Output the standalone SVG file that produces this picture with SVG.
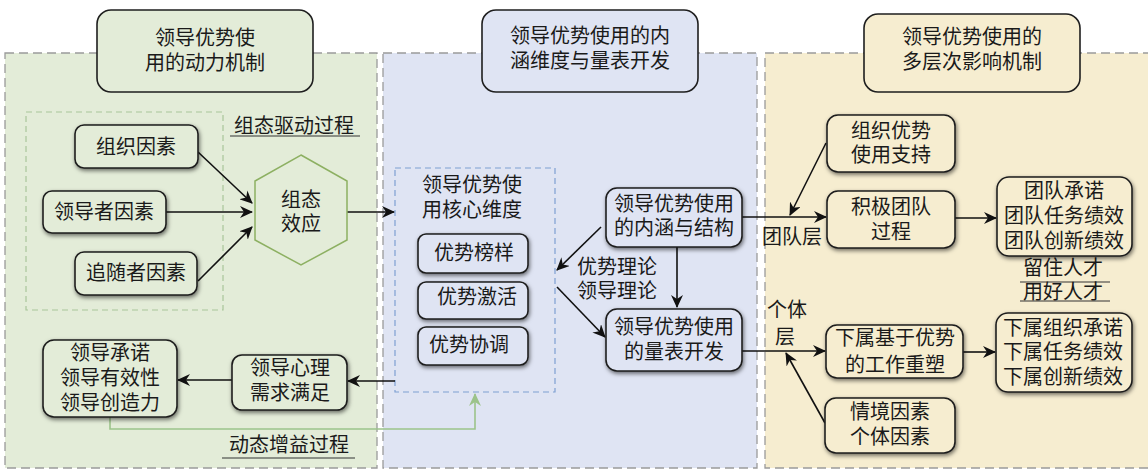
<svg xmlns="http://www.w3.org/2000/svg" width="1148" height="470" viewBox="0 0 1148 470">
<defs>
<style>
text{font-family:"Noto Sans CJK SC","Noto Sans",sans-serif;font-size:20px;fill:#1a1a1a;text-anchor:middle}
.node{stroke:#1e1e1e;stroke-width:1.6;filter:url(#sh)}
.g{fill:#e3ecd8}.b{fill:#dfe4f3}.y{fill:#f6edd0}
.hdr{stroke:#1e1e1e;stroke-width:1.6}
.panel{stroke:#9a9a9a;stroke-width:1.3;stroke-dasharray:9 5}
.edge{stroke:#111;stroke-width:1.6;fill:none;marker-end:url(#ah)}
.ul{stroke:#333;stroke-width:1.2}
</style>
<filter id="sh" x="-20%" y="-30%" width="140%" height="160%">
<feDropShadow dx="1" dy="2" stdDeviation="2.2" flood-color="#000" flood-opacity="0.55"/>
</filter>
<marker id="ah" markerWidth="14" markerHeight="12" refX="12" refY="6" orient="auto" markerUnits="userSpaceOnUse">
<path d="M0,0 L13,6 L0,12 L4,6 Z" fill="#111"/>
</marker>
<marker id="ahg" markerWidth="14" markerHeight="12" refX="12" refY="6" orient="auto" markerUnits="userSpaceOnUse">
<path d="M0,0 L13,6 L0,12 L4,6 Z" fill="#9cc38a"/>
</marker>
</defs>
<rect width="1148" height="470" fill="#fff"/>
<g id="panels">
<rect class="panel" x="5" y="53" width="372" height="415" fill="#e3ecd8"/>
<rect class="panel" x="383" y="53" width="374" height="415" fill="#dfe4f3"/>
<rect class="panel" x="765" y="53" width="390" height="415" fill="#f6edd0"/>
<rect x="26" y="112" width="197" height="198" fill="none" stroke="#a9c59a" stroke-width="1.2" stroke-dasharray="6 4"/>
<rect x="395" y="168" width="160" height="224" fill="none" stroke="#7fa0d2" stroke-width="1.2" stroke-dasharray="6 4"/>
</g>
<g id="headers">
<g id="h1"><rect class="hdr g" x="97" y="10" width="216" height="82" rx="14"/><text x="205" y="45">领导优势使</text><text x="205" y="70">用的动力机制</text></g>
<g id="h2"><rect class="hdr b" x="482" y="10" width="216" height="82" rx="14"/><text x="590" y="43">领导优势使用的内</text><text x="590" y="68">涵维度与量表开发</text></g>
<g id="h3"><rect class="hdr y" x="864" y="14" width="216" height="78" rx="14"/><text x="972" y="44">领导优势使用的</text><text x="972" y="69">多层次影响机制</text></g>
</g>
<g id="connectors">
<line class="edge" x1="198" y1="152" x2="252" y2="203"/>
<line class="edge" x1="166" y1="212" x2="252" y2="212"/>
<line class="edge" x1="198" y1="281" x2="252" y2="227"/>
<line class="edge" x1="347" y1="212" x2="394" y2="212"/>
<line class="edge" x1="395" y1="381" x2="348" y2="381"/>
<line class="edge" x1="232" y1="380" x2="178" y2="380"/>
<polyline points="110,417 110,429 475,429 475,394" fill="none" stroke="#9cc38a" stroke-width="1.6" marker-end="url(#ahg)"/>
<line class="edge" x1="677" y1="247" x2="677" y2="307"/>
<line class="edge" x1="601" y1="227" x2="557" y2="270"/>
<line class="edge" x1="557" y1="287" x2="605" y2="337"/>
<line class="edge" x1="742" y1="217" x2="826" y2="217"/>
<line class="edge" x1="826" y1="143" x2="790" y2="215"/>
<line class="edge" x1="955" y1="218" x2="996" y2="218"/>
<line class="edge" x1="742" y1="351" x2="825" y2="351"/>
<line class="edge" x1="963" y1="352" x2="995" y2="352"/>
<line class="edge" x1="825" y1="423" x2="786" y2="353"/>
</g>
<g id="labels">
<text x="294" y="133">组态驱动过程</text><line class="ul" x1="230" y1="136" x2="360" y2="136"/>
<text x="289" y="452">动态增益过程</text><line class="ul" x1="222" y1="458" x2="355" y2="458"/>
<text x="617" y="274">优势理论</text><text x="617" y="298">领导理论</text>
<text x="792" y="244">团队层</text>
<text x="1063" y="275">留住人才</text><line class="ul" x1="1020" y1="282" x2="1110" y2="282"/>
<text x="1063" y="299">用好人才</text><line class="ul" x1="1020" y1="301" x2="1110" y2="301"/>
<text x="787" y="317">个体</text><text x="785" y="344">层</text>
</g>
<g id="n-zzys"><rect class="node g" x="75" y="125" width="123" height="43" rx="9"/><text x="136" y="154">组织因素</text></g>
<g id="n-ldzys"><rect class="node g" x="43" y="191" width="123" height="42" rx="9"/><text x="104" y="219">领导者因素</text></g>
<g id="n-gszys"><rect class="node g" x="75" y="252" width="122" height="43" rx="9"/><text x="136" y="280">追随者因素</text></g>
<g id="n-hex"><polygon points="301,155 347,181 347,240 301,265 255,240 255,181" fill="#e3ecd8" stroke="#8db062" stroke-width="1.5"/><text x="301" y="207">组态</text><text x="301" y="231">效应</text></g>
<g id="n-ldcn"><rect class="node g" x="43" y="340" width="134" height="77" rx="11"/><text x="110" y="360">领导承诺</text><text x="110" y="385">领导有效性</text><text x="110" y="410">领导创造力</text></g>
<g id="n-xlxq"><rect class="node g" x="232" y="355" width="115" height="55" rx="10"/><text x="290" y="375">领导心理</text><text x="290" y="400">需求满足</text></g>
<g id="n-hxwd"><text x="472" y="192">领导优势使</text><text x="472" y="217">用核心维度</text></g>
<g id="n-bangyang"><rect class="node b" x="418" y="234" width="110" height="39" rx="8"/><text x="474" y="260">优势榜样</text></g>
<g id="n-jihuo"><rect class="node b" x="418" y="282" width="110" height="37" rx="8"/><text x="477" y="304">优势激活</text></g>
<g id="n-xietiao"><rect class="node b" x="418" y="327" width="110" height="38" rx="8"/><text x="469" y="352">优势协调</text></g>
<g id="n-neihan"><rect class="node b" x="606" y="188" width="136" height="59" rx="11"/><text x="674" y="211">领导优势使用</text><text x="674" y="235">的内涵与结构</text></g>
<g id="n-liangbiao"><rect class="node b" x="606" y="309" width="136" height="62" rx="11"/><text x="674" y="334">领导优势使用</text><text x="674" y="359">的量表开发</text></g>
<g id="n-zzzc"><rect class="node y" x="827" y="115" width="128" height="57" rx="11"/><text x="891" y="138">组织优势</text><text x="891" y="162">使用支持</text></g>
<g id="n-jjtd"><rect class="node y" x="827" y="191" width="128" height="57" rx="11"/><text x="891" y="214">积极团队</text><text x="891" y="239">过程</text></g>
<g id="n-tdcn"><rect class="node y" x="997" y="177" width="135" height="79" rx="12"/><text x="1064" y="198">团队承诺</text><text x="1064" y="223">团队任务绩效</text><text x="1064" y="248">团队创新绩效</text></g>
<g id="n-gzcs"><rect class="node y" x="826" y="325" width="137" height="53" rx="11"/><text x="895" y="345">下属基于优势</text><text x="895" y="372">的工作重塑</text></g>
<g id="n-xscn"><rect class="node y" x="996" y="313" width="136" height="79" rx="12"/><text x="1063" y="335">下属组织承诺</text><text x="1063" y="359">下属任务绩效</text><text x="1063" y="384">下属创新绩效</text></g>
<g id="n-qjys"><rect class="node y" x="825" y="398" width="130" height="55" rx="11"/><text x="890" y="419">情境因素</text><text x="890" y="444">个体因素</text></g>
</svg>
